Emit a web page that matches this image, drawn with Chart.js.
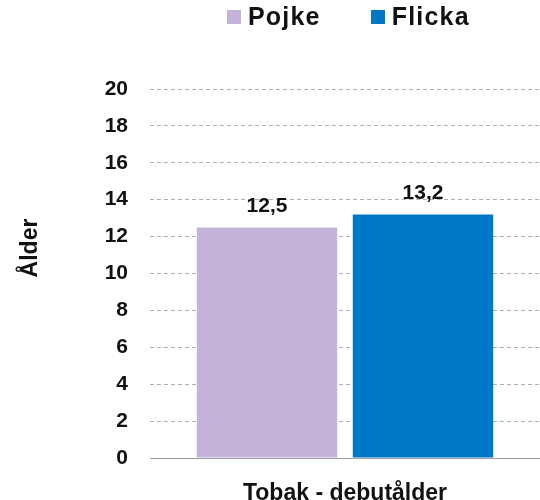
<!DOCTYPE html>
<html>
<head>
<meta charset="utf-8">
<script src="https://cdn.jsdelivr.net/npm/chart.js@4"></script>
<style>
    body { margin: 0; background: #fff; }
    #wrap { position: relative; width: 540px; height: 500px; }
    #legend {
        position: absolute; left: 227px; top: 2px;
        display: flex; align-items: center; gap: 50px;
        font-family: 'Liberation Sans', Arial, sans-serif;
        font-weight: bold; font-size: 25px; letter-spacing: 1.2px; color: #111;
    }
    #legend .item { display: flex; align-items: center; }
    #legend .box { width: 14px; height: 14px; margin-right: 7px; }
</style>
</head>
<body>
<div id="wrap">
    <canvas id="chart" width="540" height="500"></canvas>
    <div id="legend"></div>
</div>
<script>
const categories = ['Tobak - debutålder'];
const seriesNames = ['Pojke', 'Flicka'];
const seriesColors = ['#c3b3d9', '#0078c8'];
const pojkeValues = [12.5];
const flickaValues = [13.2];
const yTicks = [0, 2, 4, 6, 8, 10, 12, 14, 16, 18, 20];
const yTitle = 'Ålder';

const fontFamily = "'Liberation Sans', Arial, sans-serif";

// value labels above the bars, with comma decimals
const barLabels = {
    id: 'barLabels',
    afterDatasetsDraw(chart) {
        const ctx = chart.ctx;
        ctx.save();
        ctx.font = 'bold 21px ' + fontFamily;
        ctx.fillStyle = '#111';
        ctx.textAlign = 'center';
        ctx.textBaseline = 'alphabetic';
        chart.data.datasets.forEach((ds, i) => {
            chart.getDatasetMeta(i).data.forEach((bar, j) => {
                const txt = ds.data[j].toFixed(1).replace('.', ',');
                ctx.fillText(txt, bar.x, bar.y - 15);
            });
        });
        ctx.restore();
    }
};

// y axis title, a bit above the middle like the original
const axisTitle = {
    id: 'axisTitle',
    afterDraw(chart) {
        const ctx = chart.ctx;
        ctx.save();
        ctx.translate(31, 248);
        ctx.rotate(-Math.PI / 2);
        ctx.font = 'bold 23px ' + fontFamily;
        ctx.fillStyle = '#111';
        ctx.textAlign = 'center';
        ctx.textBaseline = 'middle';
        ctx.fillText(yTitle, 0, 0);
        ctx.restore();
    }
};

const chart = new Chart(document.getElementById('chart').getContext('2d'), {
    type: 'bar',
    data: {
        labels: categories,
        datasets: [{
            label: seriesNames[0],
            data: pojkeValues,
            backgroundColor: seriesColors[0]
        }, {
            label: seriesNames[1],
            data: flickaValues,
            backgroundColor: seriesColors[1]
        }]
    },
    options: {
        responsive: false,
        animation: false,
        layout: { padding: { top: 89, right: 0, left: 0, bottom: 0 } },
        plugins: {
            legend: { display: false },
            tooltip: { enabled: false }
        },
        scales: {
            x: {
                categoryPercentage: 0.83,
                barPercentage: 0.87,
                grid: { display: false },
                border: { display: true, color: '#a0a0a0', width: 1 },
                ticks: {
                    font: { family: fontFamily, size: 23, weight: 'bold' },
                    color: '#111',
                    padding: 14
                },
                afterFit(scale) { scale.height = 42; }
            },
            y: {
                min: 0,
                max: 20,
                afterBuildTicks(scale) {
                    scale.ticks = yTicks.map(v => ({ value: v }));
                },
                grid: { color: '#b0b0b0', lineWidth: 1, drawTicks: false },
                border: { display: false, dash: [4, 3] },
                ticks: {
                    font: { family: fontFamily, size: 21, weight: 'bold' },
                    color: '#111',
                    padding: 22
                },
                afterFit(scale) { scale.width = 150; }
            }
        }
    },
    plugins: [barLabels, axisTitle]
});

// legend as html, built from the datasets
const legend = document.getElementById('legend');
chart.data.datasets.forEach(ds => {
    const item = document.createElement('div');
    item.className = 'item';
    const box = document.createElement('span');
    box.className = 'box';
    box.style.background = ds.backgroundColor;
    const label = document.createElement('span');
    label.textContent = ds.label;
    item.appendChild(box);
    item.appendChild(label);
    legend.appendChild(item);
});
</script>
</body>
</html>
